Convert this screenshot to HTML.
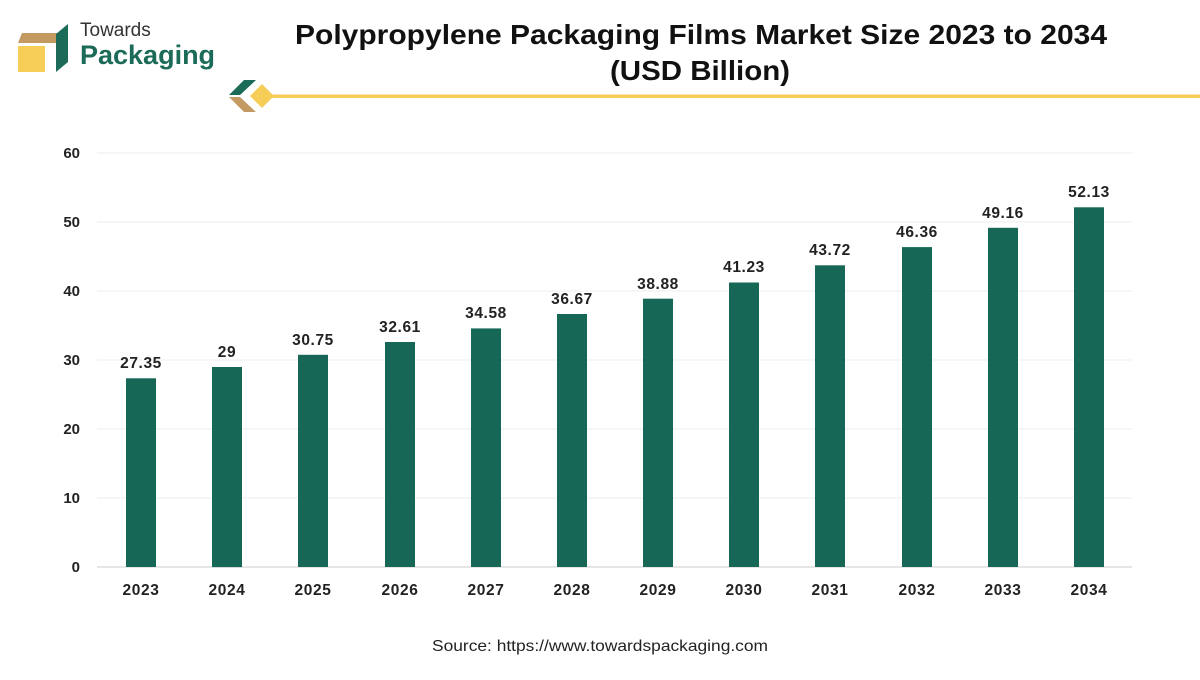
<!DOCTYPE html><html><head><style>body{margin:0;background:#fff;width:1200px;height:675px;overflow:hidden;font-family:"Liberation Sans",sans-serif}</style></head><body>
<svg width="1200" height="675" xmlns="http://www.w3.org/2000/svg" font-family="Liberation Sans, sans-serif">
<polygon points="22,33 62,33 56,43 18,43" fill="#c49a63"/>
<rect x="18" y="46" width="27" height="26" fill="#f5cd57"/>
<polygon points="56,34 68,24 68,62 56,72" fill="#1b6b58"/>
<text x="80" y="36" font-size="19" fill="#333">Towards</text>
<text x="80" y="64" font-size="27" font-weight="bold" fill="#1b6b58">Packaging</text>
<polygon points="244,80 256,80 240,95 229,95" fill="#1b6b58"/>
<polygon points="229,97 240,97 256,112 244,112" fill="#c49a63"/>
<polygon points="262,84 274,96 262,108 250,96" fill="#f5cd57"/>
<rect x="270" y="94.5" width="930" height="3.5" fill="#f5cd57"/>
<text x="295" y="44" font-size="28" font-weight="bold" fill="#111" textLength="812" lengthAdjust="spacingAndGlyphs">Polypropylene Packaging Films Market Size 2023 to 2034</text>
<text x="610" y="80" font-size="28" font-weight="bold" fill="#111" textLength="180" lengthAdjust="spacingAndGlyphs">(USD Billion)</text>
<g stroke="#eee" stroke-width="1">
<line x1="97" x2="1132" y1="153" y2="153"/><line x1="97" x2="1132" y1="222" y2="222"/><line x1="97" x2="1132" y1="291" y2="291"/><line x1="97" x2="1132" y1="360" y2="360"/><line x1="97" x2="1132" y1="429" y2="429"/><line x1="97" x2="1132" y1="498" y2="498"/>
</g>
<line x1="97" x2="1132" y1="567" y2="567" stroke="#ccc"/>
<g font-size="15" font-weight="bold" fill="#222" text-anchor="end">
<text x="80" y="158">60</text><text x="80" y="227">50</text><text x="80" y="296">40</text><text x="80" y="365">30</text><text x="80" y="434">20</text><text x="80" y="503">10</text><text x="80" y="572">0</text>
</g>
<text x="432" y="651" font-size="16" fill="#222" textLength="336" lengthAdjust="spacingAndGlyphs">Source: https://www.towardspackaging.com</text>
<g font-size="15.5" font-weight="bold" fill="#222" text-anchor="middle" letter-spacing="0.6">
<rect x="126" y="378.3" width="30" height="188.7" fill="#176756"/><text x="141" y="368">27.35</text><text x="141" y="595">2023</text>
<rect x="212" y="367.0" width="30" height="200.1" fill="#176756"/><text x="227" y="357">29</text><text x="227" y="595">2024</text>
<rect x="298" y="354.8" width="30" height="212.2" fill="#176756"/><text x="313" y="345">30.75</text><text x="313" y="595">2025</text>
<rect x="385" y="342.0" width="30" height="225.0" fill="#176756"/><text x="400" y="332">32.61</text><text x="400" y="595">2026</text>
<rect x="471" y="328.4" width="30" height="238.6" fill="#176756"/><text x="486" y="318">34.58</text><text x="486" y="595">2027</text>
<rect x="557" y="314.0" width="30" height="253.0" fill="#176756"/><text x="572" y="304">36.67</text><text x="572" y="595">2028</text>
<rect x="643" y="298.7" width="30" height="268.3" fill="#176756"/><text x="658" y="289">38.88</text><text x="658" y="595">2029</text>
<rect x="729" y="282.5" width="30" height="284.5" fill="#176756"/><text x="744" y="272">41.23</text><text x="744" y="595">2030</text>
<rect x="815" y="265.3" width="30" height="301.7" fill="#176756"/><text x="830" y="255">43.72</text><text x="830" y="595">2031</text>
<rect x="902" y="247.1" width="30" height="319.9" fill="#176756"/><text x="917" y="237">46.36</text><text x="917" y="595">2032</text>
<rect x="988" y="227.8" width="30" height="339.2" fill="#176756"/><text x="1003" y="218">49.16</text><text x="1003" y="595">2033</text>
<rect x="1074" y="207.3" width="30" height="359.7" fill="#176756"/><text x="1089" y="197">52.13</text><text x="1089" y="595">2034</text>
</g>
</svg></body></html>
